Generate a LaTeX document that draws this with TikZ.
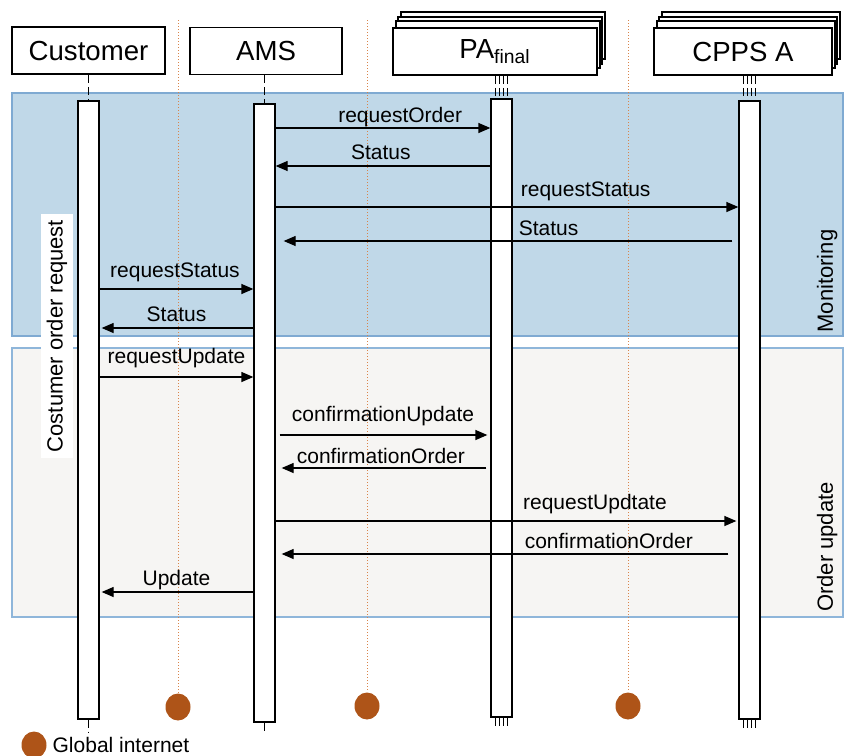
\documentclass[tikz,border=0pt]{standalone}
\usepackage{fontspec}
\setmainfont{Liberation Sans}
\usetikzlibrary{arrows.meta}
\usetikzlibrary{shapes.geometric}
\usetikzlibrary{shadows}
\usetikzlibrary{calc}
\definecolor{monfill}{HTML}{C0D8E8}
\definecolor{monline}{HTML}{7FAAD2}
\definecolor{updfill}{HTML}{F6F5F3}
\definecolor{updline}{HTML}{8FB6DA}
\definecolor{netline}{HTML}{D9844A}
\definecolor{netfill}{HTML}{AE5418}
\tikzset{>={Triangle[length=6pt,width=5pt]}}
\tikzset{
  lifebox/.style={draw,fill=white,line width=0.75pt,minimum height=23.5pt,
    inner sep=0pt,font=\fontsize{13.8}{16}\selectfont},
  stackbox/.style={lifebox,
    copy shadow={shadow xshift=4pt,shadow yshift=8pt},
    copy shadow={shadow xshift=2.5pt,shadow yshift=5.5pt},
    copy shadow={shadow xshift=1.5pt,shadow yshift=3.5pt}},
  actbar/.style={draw,fill=white,minimum width=10.5pt,minimum height=309pt,inner sep=0pt},
  lifeline/.style={dash pattern=on 4pt off 2pt},
  msg/.style={->},
  msglbl/.style={inner sep=0pt,text height=7.6pt,text depth=2.2pt,
    font=\fontsize{10.5}{12}\selectfont},
  phaselbl/.style={rotate=90,anchor=south,inner sep=1pt,font=\fontsize{11}{13}\selectfont},
  net/.style={ellipse,fill=netfill,minimum width=12.5pt,minimum height=13.5pt,inner sep=0pt}
}

\begin{document}
\begin{tikzpicture}[x=0.5pt,y=-0.5pt,line width=0.65pt]
  \useasboundingbox (0,0) rectangle (844,755);

  % phases
  \draw[draw=monline,fill=monfill,line width=0.6pt] (12,93) rectangle (843,336);
  \draw[draw=updline,fill=updfill,line width=0.6pt] (12,348) rectangle (843,617);
  \node[phaselbl] (monlbl) at (840,281) {Monitoring};
  \node[phaselbl] (updlbl) at (840,547) {Order update};

  % global internet
  \foreach \nx/\ny [count=\i] in {178/707,367/706,628/706}{
    \node[net] (gi\i) at (\nx,\ny) {};
    \coordinate (gt\i) at (\nx,20);
    \draw[netline,densely dotted,line width=0.5pt] (gt\i) -- (gi\i);
  }

  % participants
  \node[lifebox,minimum width=76.5pt] (cust) at (88.5,50.5) {Customer};
  \node[lifebox,minimum width=76pt] (ams) at (266,51) {AMS};
  \node[stackbox,minimum width=102pt] (pa) at (495,51.5) {PA\textsubscript{final}};
  \node[stackbox,minimum width=89pt] (cpps) at (743,51.5) {CPPS A};

  % activations
  \node[actbar] (custbar) at (88.5,410) {};
  \node[actbar] (amsbar) at (264.5,413) {};
  \node[actbar] (pabar) at (501.5,408) {};
  \node[actbar] (cppsbar) at (749.5,410) {};

  \coordinate (custend) at (88.5,733);
  \coordinate (amsend) at (264.5,733);
  \coordinate (paend) at (501.5,728);
  \coordinate (cppsend) at (749.5,730);

  % lifelines
  \draw[lifeline] (custbar.north |- cust.south) -- (custbar.north);
  \draw[lifeline] (custbar.south) -- (custend);
  \draw[lifeline] (amsbar.north |- ams.south) -- (amsbar.north);
  \draw[lifeline] (amsbar.south) -- (amsend);
  \foreach \dx in {-6,-2,2,6}{
    \draw[lifeline,line width=0.35pt] ($(pabar.north |- pa.south)+(\dx,0)$) -- ($(pabar.north)+(\dx,0)$);
    \draw[lifeline,line width=0.35pt] ($(pabar.south)+(\dx,0)$) -- ($(paend)+(\dx,0)$);
    \draw[lifeline,line width=0.35pt] ($(cppsbar.north |- cpps.south)+(\dx,0)$) -- ($(cppsbar.north)+(\dx,0)$);
    \draw[lifeline,line width=0.35pt] ($(cppsbar.south)+(\dx,0)$) -- ($(cppsend)+(\dx,0)$);
  }

  % messages
  \draw[msg] (amsbar.east |- 0,128) -- node[msglbl,pos=0.58,yshift=5.5pt] {requestOrder} (pabar.west |- 0,128);
  \draw[msg] (pabar.west |- 0,166) -- node[msglbl,pos=0.51,yshift=6pt] {Status} (amsbar.east |- 0,166);
  \draw[msg] (amsbar.east |- 0,207) -- node[msglbl,pos=0.67,yshift=8pt] {requestStatus} (cppsbar.west |- 0,207);
  \draw[msg,shorten <=3pt,shorten >=4pt] (cppsbar.west |- 0,241) -- node[msglbl,pos=0.41,yshift=5.5pt] {Status} (amsbar.east |- 0,241);
  \draw[msg] (custbar.east |- 0,289) -- node[msglbl,pos=0.49,yshift=8.5pt] {requestStatus} (amsbar.west |- 0,289);
  \draw[msg,shorten >=1pt] (amsbar.west |- 0,328) -- node[msglbl,pos=0.5,yshift=6pt] {Status} (custbar.east |- 0,328);
  \draw[msg] (custbar.east |- 0,377) -- node[msglbl,pos=0.5,yshift=9.5pt] {requestUpdate} (amsbar.west |- 0,377);
  \draw[msg,shorten <=2pt,shorten >=1.5pt] (amsbar.east |- 0,435) -- node[msglbl,pos=0.5,yshift=9.5pt] {confirmationUpdate} (pabar.west |- 0,435);
  \draw[msg,shorten <=2pt,shorten >=3pt] (pabar.west |- 0,468) -- node[msglbl,pos=0.51,yshift=5pt] {confirmationOrder} (amsbar.east |- 0,468);
  \draw[msg,shorten >=1pt] (amsbar.east |- 0,521) -- node[msglbl,pos=0.69,yshift=8.5pt] {requestUpdtate} (cppsbar.west |- 0,521);
  \draw[msg,shorten <=5pt,shorten >=3pt] (cppsbar.west |- 0,554) -- node[msglbl,pos=0.28,yshift=5.5pt] {confirmationOrder} (amsbar.east |- 0,554);
  \draw[msg,shorten >=1pt] (amsbar.west |- 0,592) -- node[msglbl,pos=0.5,yshift=6pt] {Update} (custbar.east |- 0,592);

  % request label
  \node[rotate=90,fill=white,inner xsep=3pt,inner ysep=2.8pt,font=\fontsize{11}{13}\selectfont]
    (reqlbl) at (57,336) {Costumer order request};

  % legend
  \node[net] (legdot) at (34,745) {};
  \node[anchor=west,inner sep=0pt,font=\fontsize{10.5}{12}\selectfont] (legtxt) at (52,745) {Global internet};
\end{tikzpicture}
\end{document}
